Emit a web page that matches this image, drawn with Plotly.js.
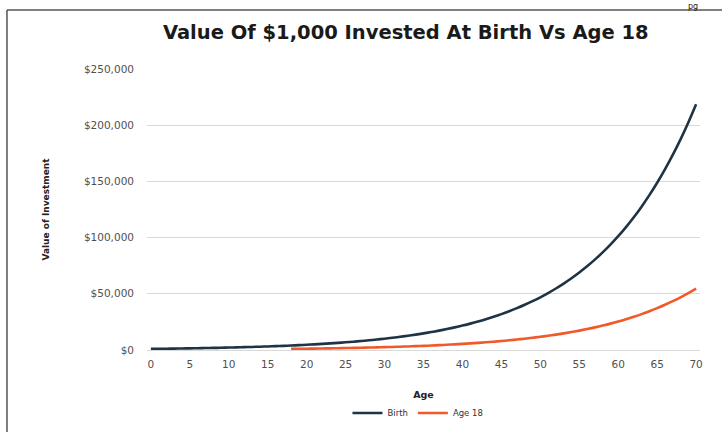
<!DOCTYPE html>
<html>
<head>
<meta charset="utf-8">
<script src="https://cdn.plot.ly/plotly-3.0.1.min.js"></script>
<style>
html,body{margin:0;padding:0;background:#fff;}
#chart{width:722px;height:432px;}
</style>
</head>
<body>
<div id="chart"></div>
<script>
// Ages (x) and investment values
const birthAges = [0,1,2,3,4,5,6,7,8,9,10,11,12,13,14,15,16,17,18,19,20,21,22,23,24,25,26,27,28,29,30,31,32,33,34,35,36,37,38,39,40,41,42,43,44,45,46,47,48,49,50,51,52,53,54,55,56,57,58,59,60,61,62,63,64,65,66,67,68,69,70];
const birthValues = [1000,1080,1166,1260,1360,1469,1587,1714,1851,1999,2159,2332,2518,2720,2937,3172,3426,3700,3996,4316,4661,5034,5437,5871,6341,6848,7396,7988,8627,9317,10063,10868,11737,12676,13690,14785,15968,17246,18625,20115,21725,23462,25339,27367,29556,31920,34474,37232,40211,43427,46902,50654,54706,59083,63809,68914,74427,80381,86812,93757,101257,109358,118106,127555,137759,148780,160682,173537,187420,202413,218606];
const age18Ages = [18,19,20,21,22,23,24,25,26,27,28,29,30,31,32,33,34,35,36,37,38,39,40,41,42,43,44,45,46,47,48,49,50,51,52,53,54,55,56,57,58,59,60,61,62,63,64,65,66,67,68,69,70];
const age18Values = [1000,1080,1166,1260,1360,1469,1587,1714,1851,1999,2159,2332,2518,2720,2937,3172,3426,3700,3996,4316,4661,5034,5437,5871,6341,6848,7396,7988,8627,9317,10063,10868,11737,12676,13690,14785,15968,17246,18625,20115,21725,23462,25339,27367,29556,31920,34474,37232,40211,43427,46902,50654,54706];
const xTicks = [0,5,10,15,20,25,30,35,40,45,50,55,60,65,70];
const yTicks = [0,50000,100000,150000,200000,250000];
const yTickText = ["$0","$50,000","$100,000","$150,000","$200,000","$250,000"];

const traces = [
  {x: birthAges, y: birthValues, name: "Birth", type: "scatter", mode: "lines",
   line: {color: "#1e3344", width: 2.6, shape: "spline"}},
  {x: age18Ages, y: age18Values, name: "Age 18", type: "scatter", mode: "lines",
   line: {color: "#f05a28", width: 2.6, shape: "spline"}}
];

const FONT = "DejaVu Sans, sans-serif";
const tickFont = {family: FONT, size: 10.5, color: "#505050"};

const layout = {
  width: 722, height: 432,
  paper_bgcolor: "#ffffff", plot_bgcolor: "#ffffff",
  margin: {l: 147, r: 22, t: 69, b: 82, autoexpand: false},
  showlegend: true,
  legend: {orientation: "h", x: 0.49, xanchor: "center", y: -0.224, yanchor: "middle",
           font: {family: FONT, size: 8.5, color: "#333"}},
  title: {text: "<b>Value Of $1,000 Invested At Birth Vs Age 18</b>",
          font: {family: FONT, size: 19.5, color: "#1a1a1a"},
          x: 0.562, xanchor: "center", xref: "container", y: 0.926, yanchor: "middle", yref: "container"},
  xaxis: {range: [-0.5, 70.5], tickvals: xTicks, showgrid: false, zeroline: false, showline: false,
          automargin: false, ticks: "", tickfont: tickFont, ticklabelstandoff: 6,
          title: {text: "<b>Age</b>", font: {family: FONT, size: 9.5, color: "#222"}, standoff: 22}},
  yaxis: {range: [0, 250000], tickvals: yTicks, ticktext: yTickText, showgrid: true, gridcolor: "#d9d9d9",
          gridwidth: 1, zeroline: true, zerolinecolor: "#d9d9d9", zerolinewidth: 1, showline: false,
          automargin: false, ticks: "", tickfont: tickFont, ticklabelstandoff: 12,
          title: {text: "<b>Value of Investment</b>", font: {family: FONT, size: 9, color: "#222"}, standoff: 32}},
  shapes: [
    {type: "line", xref: "paper", yref: "paper", x0: -0.2532, x1: -0.2532, y0: 1.21, y1: -0.30,
     line: {color: "#555", width: 1.5}},
    {type: "line", xref: "paper", yref: "paper", x0: -0.2532, x1: 1.05, y0: 1.21, y1: 1.21,
     line: {color: "#555", width: 1.5}}
  ],
  annotations: [
    {text: "pg", xref: "paper", yref: "paper", x: 0.975, y: 1.245, xanchor: "left", yanchor: "top",
     showarrow: false, font: {family: FONT, size: 8, color: "#222"}}
  ]
};

Plotly.newPlot("chart", traces, layout, {displayModeBar: false, staticPlot: true});
</script>
</body>
</html>
